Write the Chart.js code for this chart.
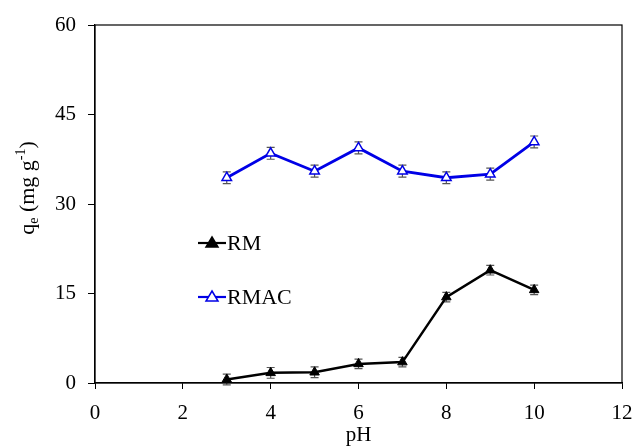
<!DOCTYPE html>
<html>
<head>
<meta charset="utf-8">
<script src="https://cdn.jsdelivr.net/npm/chart.js@4"></script>
<style>
  html, body { margin: 0; padding: 0; background: #fff; }
  #wrap { width: 632px; height: 448px; }
</style>
</head>
<body>
<div id="wrap"><canvas id="phChart" width="632" height="448"></canvas></div>
<script>
// data
const pH = [3, 4, 5, 6, 7, 8, 9, 10];
const rm = [0.6, 1.7, 1.8, 3.2, 3.5, 14.4, 18.9, 15.6];
const rmErr = [0.9, 0.9, 0.9, 0.8, 0.8, 0.8, 0.8, 0.8];
const rmac = [34.4, 38.5, 35.5, 39.4, 35.5, 34.4, 35.0, 40.4];
const rmacErr = [1.0, 1.0, 1.0, 1.0, 1.0, 1.0, 1.0, 1.0];
const xTicks = [0, 2, 4, 6, 8, 10, 12];
const yTicks = [0, 15, 30, 45, 60];

const FONT = "'Liberation Serif', 'Times New Roman', serif";
const BLUE = '#0000e6';

// error bars, frame, legend and y title
const extras = {
    id: 'extras',
    beforeDatasetsDraw(chart) {
        const ctx = chart.ctx, xs = chart.scales.x, ys = chart.scales.y;
        ctx.save();
        ctx.strokeStyle = '#555';
        ctx.lineWidth = 1.2;
        [[rm, rmErr], [rmac, rmacErr]].forEach(([vals, errs]) => {
            vals.forEach((v, i) => {
                const px = xs.getPixelForValue(pH[i]);
                const top = ys.getPixelForValue(v + errs[i]);
                const bot = ys.getPixelForValue(v - errs[i]);
                ctx.beginPath();
                ctx.moveTo(px, top); ctx.lineTo(px, bot);
                ctx.moveTo(px - 4, top); ctx.lineTo(px + 4, top);
                ctx.moveTo(px - 4, bot); ctx.lineTo(px + 4, bot);
                ctx.stroke();
            });
        });
        ctx.restore();
    },
    afterDraw(chart) {
        const ctx = chart.ctx, a = chart.chartArea;
        ctx.save();
        ctx.strokeStyle = '#000';
        ctx.lineWidth = 1.2;
        ctx.strokeRect(a.left, a.top, a.right - a.left, a.bottom - a.top);

        // legend
        const items = [
            { label: 'RM', color: '#000', fill: '#000', y: 243 },
            { label: 'RMAC', color: BLUE, fill: '#fff', y: 297 }
        ];
        items.forEach(it => {
            ctx.strokeStyle = it.color;
            ctx.lineWidth = 2.2;
            ctx.beginPath();
            ctx.moveTo(198, it.y); ctx.lineTo(226, it.y);
            ctx.stroke();
            ctx.beginPath();
            ctx.moveTo(212, it.y - 6); ctx.lineTo(218, it.y + 4); ctx.lineTo(206, it.y + 4);
            ctx.closePath();
            ctx.fillStyle = it.fill;
            ctx.fill();
            ctx.lineWidth = 1.5;
            ctx.stroke();
            ctx.fillStyle = '#000';
            ctx.font = '22px ' + FONT;
            ctx.textBaseline = 'middle';
            ctx.textAlign = 'left';
            ctx.fillText(it.label, 227, it.y + 1);
        });

        // y title: q_e (mg g^-1)
        ctx.translate(27, 188);
        ctx.rotate(-Math.PI / 2);
        ctx.fillStyle = '#000';
        ctx.textBaseline = 'alphabetic';
        ctx.textAlign = 'left';
        const parts = [
            ['q', 22, 0], ['e', 14, 4], [' (mg g', 22, 0], ['-1', 14, -9], [')', 22, 0]
        ];
        let w = 0;
        parts.forEach(p => { ctx.font = p[1] + 'px ' + FONT; w += ctx.measureText(p[0]).width; });
        let x = -w / 2;
        parts.forEach(p => {
            ctx.font = p[1] + 'px ' + FONT;
            ctx.fillText(p[0], x, 7 + p[2]);
            x += ctx.measureText(p[0]).width;
        });
        ctx.restore();
    }
};

new Chart(document.getElementById('phChart'), {
    type: 'line',
    data: {
        datasets: [{
            label: 'RM',
            data: pH.map((x, i) => ({ x: x, y: rm[i] })),
            borderColor: '#000',
            backgroundColor: '#000',
            borderWidth: 2.5,
            pointStyle: 'triangle',
            pointRadius: 5.5,
            pointBorderWidth: 1,
            pointBackgroundColor: '#000'
        }, {
            label: 'RMAC',
            data: pH.map((x, i) => ({ x: x, y: rmac[i] })),
            borderColor: BLUE,
            backgroundColor: '#fff',
            borderWidth: 2.8,
            pointStyle: 'triangle',
            pointRadius: 5.5,
            pointBorderWidth: 1.5,
            pointBackgroundColor: '#fff'
        }]
    },
    options: {
        responsive: false,
        animation: false,
        layout: { padding: { left: 0, right: 10, top: 25, bottom: 0 } },
        plugins: { legend: { display: false }, tooltip: { enabled: false } },
        scales: {
            x: {
                type: 'linear',
                min: 0, max: 12,
                afterBuildTicks: s => { s.ticks = xTicks.map(v => ({ value: v })); },
                grid: { drawOnChartArea: false, drawTicks: true, tickLength: 6, color: '#000' },
                border: { color: '#000', width: 1.2 },
                ticks: { color: '#000', font: { family: FONT, size: 21 }, padding: 12, maxRotation: 0 },
                title: { display: true, text: 'pH', color: '#000', font: { family: FONT, size: 21 }, padding: { top: -6, bottom: 0 } },
                afterFit: s => { s.height = 65; s.paddingRight = 0; s.paddingLeft = 0; }
            },
            y: {
                min: 0, max: 60,
                afterBuildTicks: s => { s.ticks = yTicks.map(v => ({ value: v })); },
                grid: { drawOnChartArea: false, drawTicks: true, tickLength: 7, color: '#000' },
                border: { color: '#000', width: 1.2 },
                ticks: { color: '#000', font: { family: FONT, size: 21 }, padding: 12 },
                afterFit: s => { s.width = 95; s.paddingTop = 0; s.paddingBottom = 0; }
            }
        }
    },
    plugins: [extras]
});
</script>
</body>
</html>
